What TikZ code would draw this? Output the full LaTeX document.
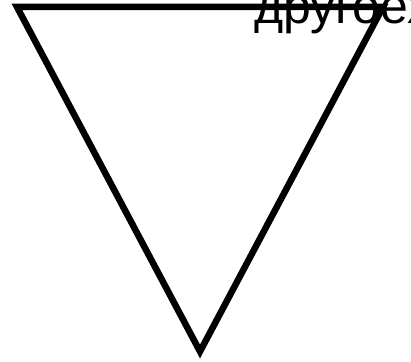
\documentclass[tikz,border=0pt]{standalone}
\usepackage{fontspec}
\setmainfont{Liberation Sans}
\begin{document}
\begin{tikzpicture}[x=1pt,y=-1pt,
  tri/.style={draw=black,line width=6.5pt,line join=miter},
  lbl/.style={inner sep=0pt,anchor=base west,font=\fontsize{50}{54}\selectfont}]
\clip (0,0) rectangle (411,361);
\useasboundingbox (0,0) rectangle (411,361);
\fill[white] (0,0) rectangle (411,361);
\coordinate (A) at (17,7);
\coordinate (B) at (383,7);
\coordinate (C) at (200,351.5);
\draw[tri] (A) -- (B) -- (C) -- cycle;
\node[lbl] (t) at (254,24) {другоех};
\end{tikzpicture}
\end{document}
